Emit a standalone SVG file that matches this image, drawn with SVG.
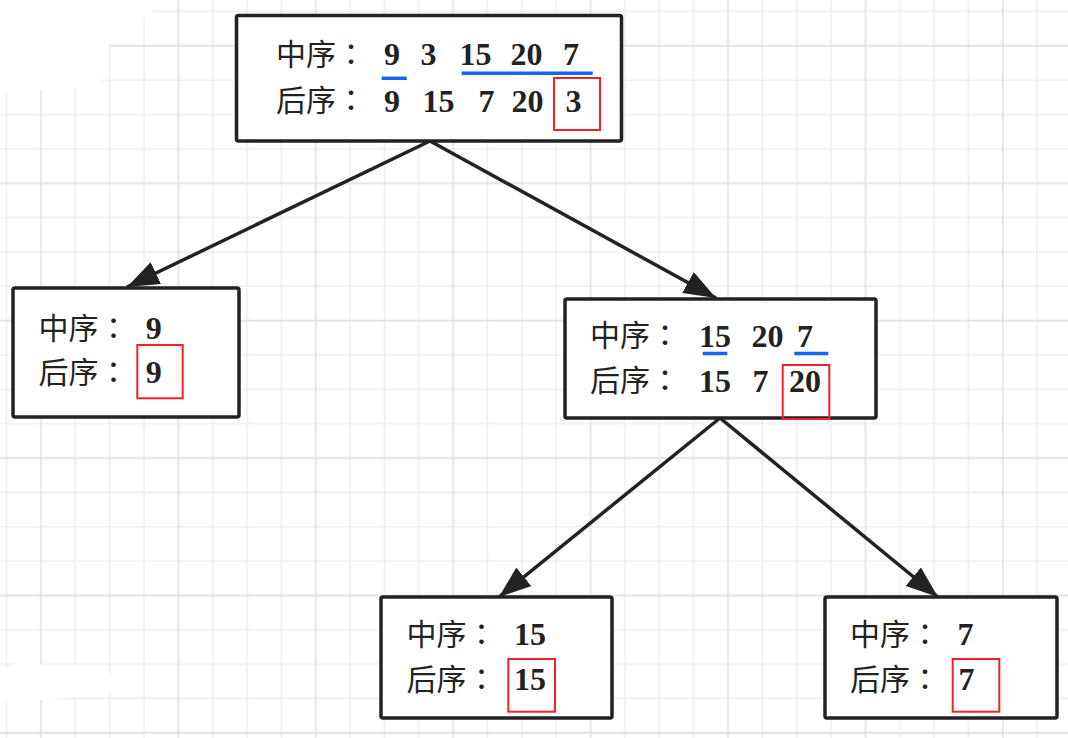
<svg xmlns="http://www.w3.org/2000/svg" width="1068" height="738" viewBox="0 0 1068 738">
  <style>
    .box { fill: #ffffff; stroke: #222222; stroke-width: 3.5; }
    .cjk { font-family: "Noto Sans CJK TC", "Noto Sans CJK SC", sans-serif; font-size: 30px; fill: #222222; }
    .num { font-family: "Liberation Serif", "Times New Roman", serif; font-weight: bold; font-size: 32px; fill: #222222; }
    .mark { stroke: #1466f0; stroke-width: 3.5; }
    .pick { fill: none; stroke: #ee2228; stroke-width: 2; }
    .edge { fill: none; stroke: #222222; stroke-width: 3.5; }
  </style>
  <defs>
    <pattern id="grid" patternUnits="userSpaceOnUse" x="-10.575" y="-5.675" width="137.4" height="137.4">
      <g stroke="#eeeeee" stroke-width="1.5">
        <path d="M17.175 0V137.4M85.875 0V137.4M120.225 0V137.4M0 17.175H137.4M0 85.875H137.4M0 120.225H137.4"/>
      </g>
      <g stroke="#e4e4e4" stroke-width="1.8">
        <path d="M51.525 0V137.4M0 51.525H137.4"/>
      </g>
    </pattern>
    <marker id="arrow" markerUnits="userSpaceOnUse" markerWidth="34" markerHeight="26" refX="32" refY="12" orient="auto">
      <path d="M0 0L32 12L0 24z" fill="#222222"/>
    </marker>
  </defs>

  <!-- background grid -->
  <rect width="1068" height="738" fill="#ffffff"/>
  <rect width="1068" height="738" fill="url(#grid)"/>
  <!-- worn patches of the grid paper -->
  <path d="M0 0H176L152 11L110 42L101 82L78 87L0 94Z" fill="#ffffff"/>
  <path d="M0 672L16 663L36 661L44 666L108 666L112 690L76 697L40 700L0 703Z" fill="#ffffff"/>

  <!-- connectors -->
  <g id="connectors">
    <path class="edge" d="M430 141L127 287" marker-end="url(#arrow)"/>
    <path class="edge" d="M430 141L716 298" marker-end="url(#arrow)"/>
    <path class="edge" d="M720 418L499 597" marker-end="url(#arrow)"/>
    <path class="edge" d="M720 418L938 597" marker-end="url(#arrow)"/>
  </g>

  <!-- root: 3 -->
  <g id="node-root">
    <rect class="box" x="236.5" y="15.5" width="385" height="125.5" rx="2"/>
    <text class="cjk" x="276" y="64.5">中序：</text>
    <text class="cjk" x="276" y="111">后序：</text>
    <text class="num" y="65"><tspan x="384">9</tspan><tspan x="420.5">3</tspan><tspan x="459.5">15</tspan><tspan x="510.5">20</tspan><tspan x="563">7</tspan></text>
    <text class="num" y="111.5"><tspan x="384">9</tspan><tspan x="422.5">15</tspan><tspan x="478.5">7</tspan><tspan x="511.5">20</tspan><tspan x="565.5">3</tspan></text>
    <line class="mark" x1="381.7" y1="78.3" x2="406.7" y2="78.3"/>
    <line class="mark" x1="461.7" y1="73.3" x2="592.7" y2="73.3"/>
    <rect class="pick" x="554" y="78" width="46" height="52"/>
  </g>

  <!-- left child: 9 -->
  <g id="node-9">
    <rect class="box" x="13" y="288" width="226" height="129" rx="2"/>
    <text class="cjk" x="38.5" y="338.8">中序：</text>
    <text class="cjk" x="38.5" y="382.8">后序：</text>
    <text class="num" x="145.7" y="339.3">9</text>
    <text class="num" x="145.7" y="383.3">9</text>
    <rect class="pick" x="137.3" y="345" width="45.4" height="53.3"/>
  </g>

  <!-- right child: 20 -->
  <g id="node-20">
    <rect class="box" x="565" y="299" width="311" height="119" rx="2"/>
    <text class="cjk" x="590" y="346.2">中序：</text>
    <text class="cjk" x="590" y="391.2">后序：</text>
    <text class="num" y="346.7"><tspan x="699">15</tspan><tspan x="751.5">20</tspan><tspan x="797">7</tspan></text>
    <text class="num" y="391.7"><tspan x="699">15</tspan><tspan x="752.5">7</tspan><tspan x="789">20</tspan></text>
    <line class="mark" x1="702.7" y1="353.5" x2="727.3" y2="353.5"/>
    <line class="mark" x1="794.3" y1="353.5" x2="828.3" y2="353.5"/>
    <rect class="pick" x="782.7" y="365" width="46.6" height="54"/>
  </g>

  <!-- leaf: 15 -->
  <g id="node-15">
    <rect class="box" x="381" y="597" width="231" height="121" rx="2"/>
    <text class="cjk" x="406.5" y="644.5">中序：</text>
    <text class="cjk" x="406.5" y="689.5">后序：</text>
    <text class="num" x="514" y="645">15</text>
    <text class="num" x="514" y="690">15</text>
    <rect class="pick" x="508.3" y="659" width="46.7" height="52.7"/>
  </g>

  <!-- leaf: 7 -->
  <g id="node-7">
    <rect class="box" x="825" y="597" width="232" height="121" rx="2"/>
    <text class="cjk" x="850" y="644.5">中序：</text>
    <text class="cjk" x="850" y="689.5">后序：</text>
    <text class="num" x="957.5" y="645">7</text>
    <text class="num" x="958.5" y="690">7</text>
    <rect class="pick" x="952.7" y="659" width="46.6" height="52.7"/>
  </g>
</svg>
